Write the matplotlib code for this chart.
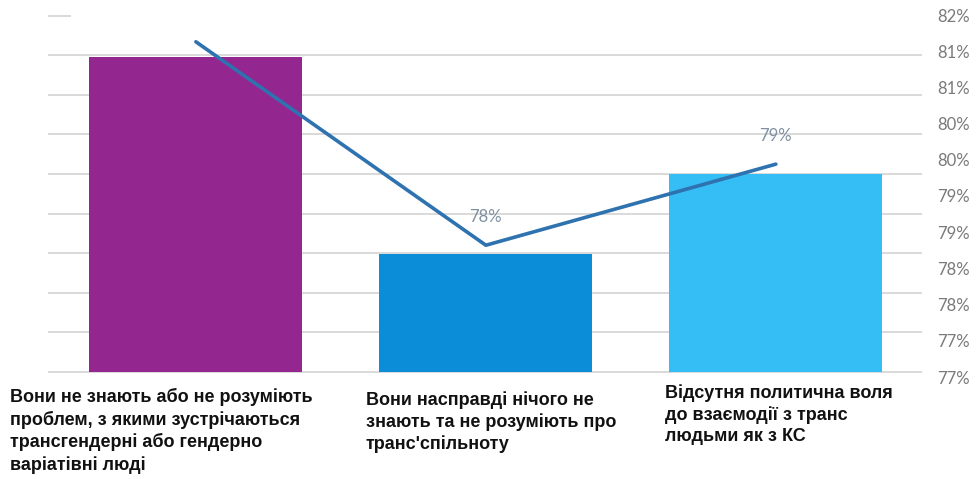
import math
import numpy as np
import matplotlib
matplotlib.use("Agg")
import matplotlib.pyplot as plt

# --- data -------------------------------------------------------------
categories = [
    "Вони не знають або не розуміють\nпроблем, з якими зустрічаються\nтрансгендерні або гендерно\nваріатівні люді",
    "Вони насправді нічого не\nзнають та не розуміють про\nтранс'спільноту",
    "Відсутня политична воля\nдо взаємодії з транс\nлюдьми як з КС",
]
bar_values = [80.92, 78.20, 79.30]      # %
line_values = [81.13, 78.32, 79.44]     # %
labelled_points = [1, 2]
axis_floor = 76.57
y_ticks = list(np.arange(76.5, 81.51, 0.5))

bar_colors = ["#93278F", "#0B8DD7", "#35BDF5"]
line_color = "#2E72B0"
grid_color = "#D9D9D9"
tick_color = "#7A7A7A"
value_color = "#7F90A3"

W, H = 979, 479


def box(left, top, right, bottom):
    return [left / W, 1 - bottom / H, (right - left) / W, (bottom - top) / H]


def pct(v):
    return f"{math.floor(v + 0.5 + 1e-9)}%"


fig = plt.figure(figsize=(W / 100, H / 100), dpi=100)
fig.patch.set_facecolor("white")

# background gridlines
gax = fig.add_axes(box(48, 15, 922, 377), zorder=0)
gax.set_xlim(0, 1)
gax.set_ylim(-0.126, 9.015)
gax.axis("off")
for k in range(9):
    gax.axhline(k, 0, 1, color=grid_color, lw=1.4)
gax.axhline(9, 0, 0.025, color=grid_color, lw=1.4)

# bars + line
ax = fig.add_axes(box(48, 15, 922, 377), zorder=2)
ax.patch.set_alpha(0)
x = np.arange(len(categories))
ax.set_xlim(-0.51, 2.504)
ax.set_ylim(76.5, 81.5)

ax.bar(x, np.array(bar_values) - axis_floor, bottom=axis_floor,
       width=0.735, color=bar_colors, zorder=2)
ax.plot(x, line_values, color=line_color, lw=2.6,
        solid_capstyle="round", solid_joinstyle="round", zorder=3,
        clip_on=False)

for i in labelled_points:
    ax.annotate(pct(line_values[i]), (x[i], line_values[i]),
                xytext=(0, 20), textcoords="offset points",
                ha="center", va="center", fontsize=12,
                family=["Lato", "DejaVu Sans"], color=value_color)

ax.set_xticks([])
ax.yaxis.tick_right()
ax.set_yticks(y_ticks)
ax.set_yticklabels([pct(v) for v in y_ticks])
ax.tick_params(axis="y", length=0, pad=11, labelsize=12, labelcolor=tick_color)
for lab in ax.get_yticklabels():
    lab.set_family(["Lato", "DejaVu Sans"])
for s in ax.spines.values():
    s.set_visible(False)

# category captions under the bars
label_pos = [(10, 388), (366, 391), (665, 384)]
for text, (lx, ly) in zip(categories, label_pos):
    fig.text(lx / W, 1 - ly / H, text, ha="left", va="top",
             fontsize=13, fontweight="bold", color="#111111",
             family=["Liberation Sans", "DejaVu Sans"], linespacing=1.33)

fig.savefig("out.png", dpi=100, facecolor="white")
